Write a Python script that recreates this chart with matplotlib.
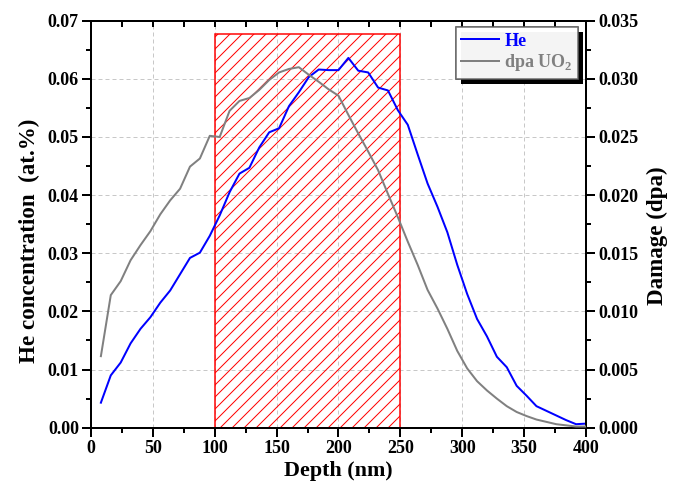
import numpy as np
import matplotlib
matplotlib.use('Agg')
import matplotlib.pyplot as plt
import matplotlib.patheffects as pe
from matplotlib.patches import Rectangle
from matplotlib.ticker import MultipleLocator, FormatStrFormatter

plt.rcParams['font.family'] = ['Liberation Serif', 'DejaVu Serif']
plt.rcParams['font.weight'] = 'bold'
plt.rcParams['hatch.color'] = '#ff0000'
plt.rcParams['hatch.linewidth'] = 1.0

# depth grid (nm), same for both profiles
depth = np.arange(8, 401, 8)

# He concentration (at.%)
he = [0.0043, 0.0090, 0.0112, 0.0145, 0.0170, 0.0190, 0.0215, 0.0236, 0.0264, 0.0292,
      0.0301, 0.0330, 0.0365, 0.0405, 0.0437, 0.0447, 0.0482, 0.0508, 0.0515, 0.0553,
      0.0577, 0.0603, 0.0616, 0.0615, 0.0615, 0.0636, 0.0614, 0.0611, 0.0585, 0.0580,
      0.0546, 0.0521, 0.0470, 0.0420, 0.0380, 0.0336, 0.0280, 0.0230, 0.0187, 0.0157,
      0.0122, 0.0104, 0.0072, 0.0055, 0.0037, 0.0029, 0.0021, 0.0013, 0.0006, 0.0007]

# damage in UO2 (dpa)
dpa = [0.00615, 0.01140, 0.01260, 0.01440, 0.01570, 0.01690, 0.01835, 0.01955, 0.02055, 0.02245,
       0.02315, 0.02510, 0.02500, 0.02725, 0.02810, 0.02835, 0.02905, 0.02990, 0.03055, 0.03085,
       0.03100, 0.03035, 0.02975, 0.02910, 0.02855, 0.02690, 0.02530, 0.02375, 0.02215, 0.02010,
       0.01810, 0.01600, 0.01400, 0.01185, 0.01025, 0.00850, 0.00660, 0.00510, 0.00400, 0.00320,
       0.00250, 0.00185, 0.00135, 0.00100, 0.00070, 0.00050, 0.00030, 0.00020, 0.00010, 0.00010]

# implanted zone shown as hatched box
zone_start, zone_end, zone_top = 100, 250, 0.0677

fig = plt.figure(figsize=(676 / 72, 488 / 72), dpi=72)
ax = fig.add_axes([0.1346, 0.1236, 0.7322, 0.834])
ax2 = ax.twinx()

ax.set_xlim(0, 400)
ax.set_ylim(0, 0.07)
ax2.set_ylim(0, 0.035)

ax.grid(True, which='major', color='#c8c8c8', linestyle=(0, (4, 3)), linewidth=1)
ax.set_axisbelow(True)

ax.add_patch(Rectangle((zone_start, 0), zone_end - zone_start, zone_top,
                       facecolor='none', edgecolor='#ff0000', hatch='//', linewidth=1.5, zorder=2))

l1, = ax.plot(depth, he, color='#0000ff', lw=2, zorder=3, label='He')
l2, = ax2.plot(depth, dpa, color='#808080', lw=2, zorder=3, label=r'dpa UO$_\mathregular{2}$')

ax.xaxis.set_major_locator(MultipleLocator(50))
ax.xaxis.set_minor_locator(MultipleLocator(25))
ax.yaxis.set_major_locator(MultipleLocator(0.01))
ax.yaxis.set_minor_locator(MultipleLocator(0.005))
ax.yaxis.set_major_formatter(FormatStrFormatter('%.2f'))
ax2.yaxis.set_major_locator(MultipleLocator(0.005))
ax2.yaxis.set_minor_locator(MultipleLocator(0.0025))
ax2.yaxis.set_major_formatter(FormatStrFormatter('%.3f'))

for a in (ax, ax2):
    for s in a.spines.values():
        s.set_linewidth(2)
ax.tick_params(axis='both', which='major', direction='out', length=9, width=2, labelsize=18, pad=3)
ax.tick_params(axis='both', which='minor', direction='out', length=5, width=2)
ax.tick_params(axis='x', top=True, which='both')
ax2.tick_params(axis='y', which='major', direction='out', length=9, width=2, labelsize=18, pad=3)
ax2.tick_params(axis='y', which='minor', direction='out', length=5, width=2)

# top ticks point inward
for t in ax.xaxis.get_major_ticks() + ax.xaxis.get_minor_ticks():
    t.tick2line.set_marker(3)
    t.tick2line.set_markersize(6)

ax.set_xlabel('Depth (nm)', fontsize=22, fontweight='bold', labelpad=4)
ax.set_ylabel('He concentration  (at.%)', fontsize=23, fontweight='bold')
ax.yaxis.set_label_coords(-0.103, 0.46)
ax2.set_ylabel('Damage (dpa)', fontsize=23, fontweight='bold')
ax2.yaxis.set_label_coords(1.123, 0.472)

leg = ax2.legend([l1, l2], ['He', r'dpa UO$_\mathregular{2}$'], loc='upper right',
                 bbox_to_anchor=(0.984, 0.984), fontsize=18, frameon=True, fancybox=False,
                 handlelength=2.1, handletextpad=0.3, labelspacing=0.15, borderpad=0.3,
                 borderaxespad=0)
leg.get_frame().set_edgecolor('#555555')
leg.get_frame().set_linewidth(1.5)
leg.get_frame().set_path_effects([pe.withSimplePatchShadow(offset=(5, -5), shadow_rgbFace='k', alpha=1),
                                  pe.Normal()])
leg.get_texts()[0].set_color('#0000ff')
leg.get_texts()[1].set_color('#808080')
for t in leg.get_texts():
    t.set_fontweight('bold')

fig.savefig('out.png', dpi=72)
